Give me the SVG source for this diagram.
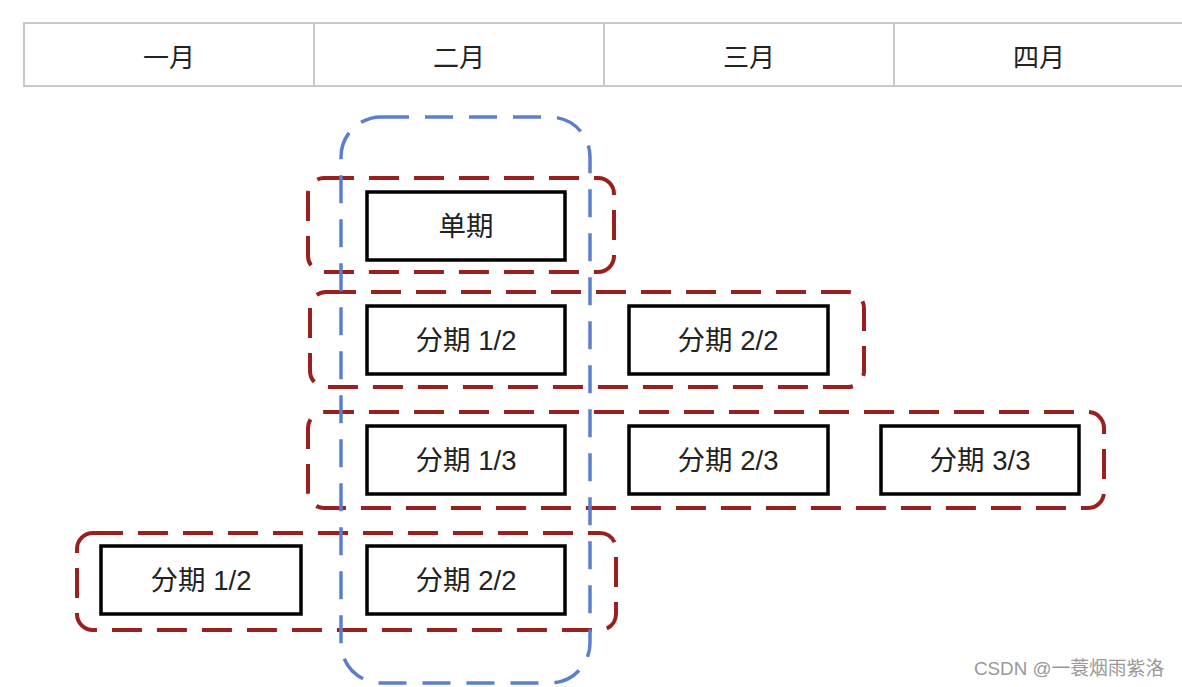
<svg xmlns="http://www.w3.org/2000/svg" width="1182" height="687" viewBox="0 0 1182 687">
<style>
.hdr{fill:#fff;stroke:#c8c8c8;stroke-width:2}
.hl{stroke:#c8c8c8;stroke-width:2}
.ht{font-family:"Noto Sans CJK SC","Liberation Sans",sans-serif;font-size:26px;fill:#222;text-anchor:middle;dominant-baseline:central}
.box{fill:#fff;stroke:#000;stroke-width:3.5}
.bt{font-family:"Liberation Sans","Noto Sans CJK SC",sans-serif;font-size:27.5px;fill:#222;text-anchor:middle;dominant-baseline:central}
.red{fill:none;stroke:#9a1f1f;stroke-width:4;stroke-dasharray:30 15}
.blue{fill:none;stroke:#5b7fcf;stroke-width:3.5;stroke-dasharray:28 16}
.wm{font-family:"Liberation Sans","Noto Sans CJK SC",sans-serif;font-size:18.8px;fill:#999}
</style>
<rect width="1182" height="687" fill="#fff"/>
<g id="header">
<rect class="hdr" x="24" y="23" width="1170" height="63"/>
<line class="hl" x1="314" y1="23" x2="314" y2="86"/>
<line class="hl" x1="604" y1="23" x2="604" y2="86"/>
<line class="hl" x1="894" y1="23" x2="894" y2="86"/>
<text class="ht" x="169" y="55">一月</text>
<text class="ht" x="459" y="55">二月</text>
<text class="ht" x="749" y="55">三月</text>
<text class="ht" x="1039" y="55">四月</text>
</g>
<g id="boxes">
<g id="n1"><rect class="box" x="367" y="192" width="198" height="68"/><text class="bt" x="466" y="226">单期</text></g>
<g id="n2"><rect class="box" x="367" y="306" width="198" height="68"/><text class="bt" x="466" y="340">分期 1/2</text></g>
<g id="n3"><rect class="box" x="629" y="306" width="199" height="68"/><text class="bt" x="728" y="340">分期 2/2</text></g>
<g id="n4"><rect class="box" x="367" y="426" width="198" height="68"/><text class="bt" x="466" y="460">分期 1/3</text></g>
<g id="n5"><rect class="box" x="629" y="426" width="199" height="68"/><text class="bt" x="728" y="460">分期 2/3</text></g>
<g id="n6"><rect class="box" x="881" y="426" width="198" height="68"/><text class="bt" x="980" y="460">分期 3/3</text></g>
<g id="n7"><rect class="box" x="101" y="546" width="200" height="68"/><text class="bt" x="201" y="580">分期 1/2</text></g>
<g id="n8"><rect class="box" x="367" y="546" width="198" height="68"/><text class="bt" x="466" y="580">分期 2/2</text></g>
</g>
<g id="groups">
<rect class="red" x="308" y="178" width="306" height="94" rx="16"/>
<rect class="red" x="310" y="292" width="554" height="95" rx="16"/>
<rect class="red" x="308" y="412" width="796" height="96" rx="16"/>
<rect class="red" x="77" y="533" width="539" height="97" rx="16"/>
<rect class="blue" x="341" y="117" width="249" height="566" rx="40"/>
</g>
<text class="wm" x="974" y="675">CSDN @一蓑烟雨紫洛</text>
</svg>
